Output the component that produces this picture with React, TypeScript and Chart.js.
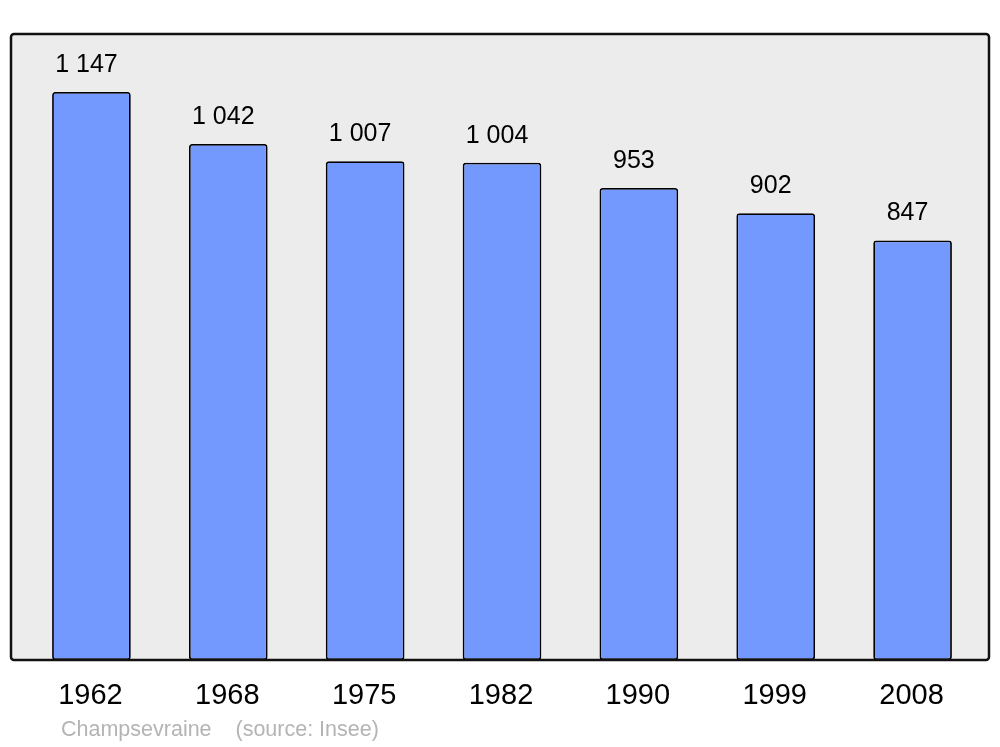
import React, { useEffect, useRef } from "react";
import { Chart, registerables } from "chart.js";
Chart.register(...registerables);

const years = ["1962", "1968", "1975", "1982", "1990", "1999", "2008"];
const population = [1147, 1042, 1007, 1004, 953, 902, 847];
const valueLabels = ["1 147", "1 042", "1 007", "1 004", "953", "902", "847"];
const sourceLabel = "Champsevraine    (source: Insee)";

const FONT = "'Liberation Sans', Arial, sans-serif";

const framePlugin = {
  id: "frame",
  beforeDraw(chart: any) {
    const { ctx, chartArea } = chart;
    const l = chartArea.left - 12;
    const r = chartArea.right + 8;
    const t = chartArea.top;
    const b = chartArea.bottom;
    ctx.save();
    ctx.beginPath();
    (ctx as any).roundRect(l, t, r - l, b - t, 3);
    ctx.fillStyle = "#ececec";
    ctx.fill();
    ctx.restore();
  },
  afterDatasetsDraw(chart: any) {
    const { ctx, chartArea, scales } = chart;
    const l = chartArea.left - 12;
    const r = chartArea.right + 8;
    const t = chartArea.top;
    const b = chartArea.bottom;
    ctx.save();
    ctx.beginPath();
    (ctx as any).roundRect(l, t, r - l, b - t, 3);
    ctx.lineWidth = 2.5;
    ctx.strokeStyle = "#111";
    ctx.stroke();

    ctx.fillStyle = "#000";
    ctx.textAlign = "center";
    ctx.textBaseline = "middle";
    ctx.font = `25px ${FONT}`;
    population.forEach((v, i) => {
      const x = scales.x.getPixelForValue(i);
      const y = scales.y.getPixelForValue(v);
      ctx.fillText(valueLabels[i], x - 5, y - 27);
    });
    ctx.font = `29px ${FONT}`;
    years.forEach((yr, i) => {
      const x = scales.x.getPixelForValue(i);
      ctx.fillText(yr, x - 1, b + 36);
    });
    ctx.textAlign = "left";
    ctx.fillStyle = "#b4b4b4";
    ctx.font = `21.5px ${FONT}`;
    ctx.fillText(sourceLabel, 61, b + 70);
    ctx.restore();
  },
};

export default function App() {
  const ref = useRef<HTMLCanvasElement>(null);
  useEffect(() => {
    document.body.style.margin = "0";
    const chart = new Chart(ref.current!, {
      type: "bar",
      data: {
        labels: years,
        datasets: [
          {
            data: population,
            backgroundColor: "#7399ff",
            borderColor: "#000",
            borderWidth: 1.8,
            borderRadius: 3,
            borderSkipped: false,
            barPercentage: 0.575,
            categoryPercentage: 1,
          },
        ],
      },
      options: {
        animation: false,
        responsive: false,
        maintainAspectRatio: false,
        layout: { padding: { left: 23, right: 19, top: 34, bottom: 87 } },
        plugins: { legend: { display: false }, tooltip: { enabled: false } },
        scales: {
          x: { display: false },
          y: { display: false, min: 0, max: 1264 },
        },
      },
      plugins: [framePlugin],
    });
    return () => chart.destroy();
  }, []);
  return (
    <div style={{ position: "absolute", left: 0, top: 0, width: 1000, height: 747, background: "#fff" }}>
      <canvas ref={ref} width={1000} height={747} style={{ width: 1000, height: 747 }} />
    </div>
  );
}
